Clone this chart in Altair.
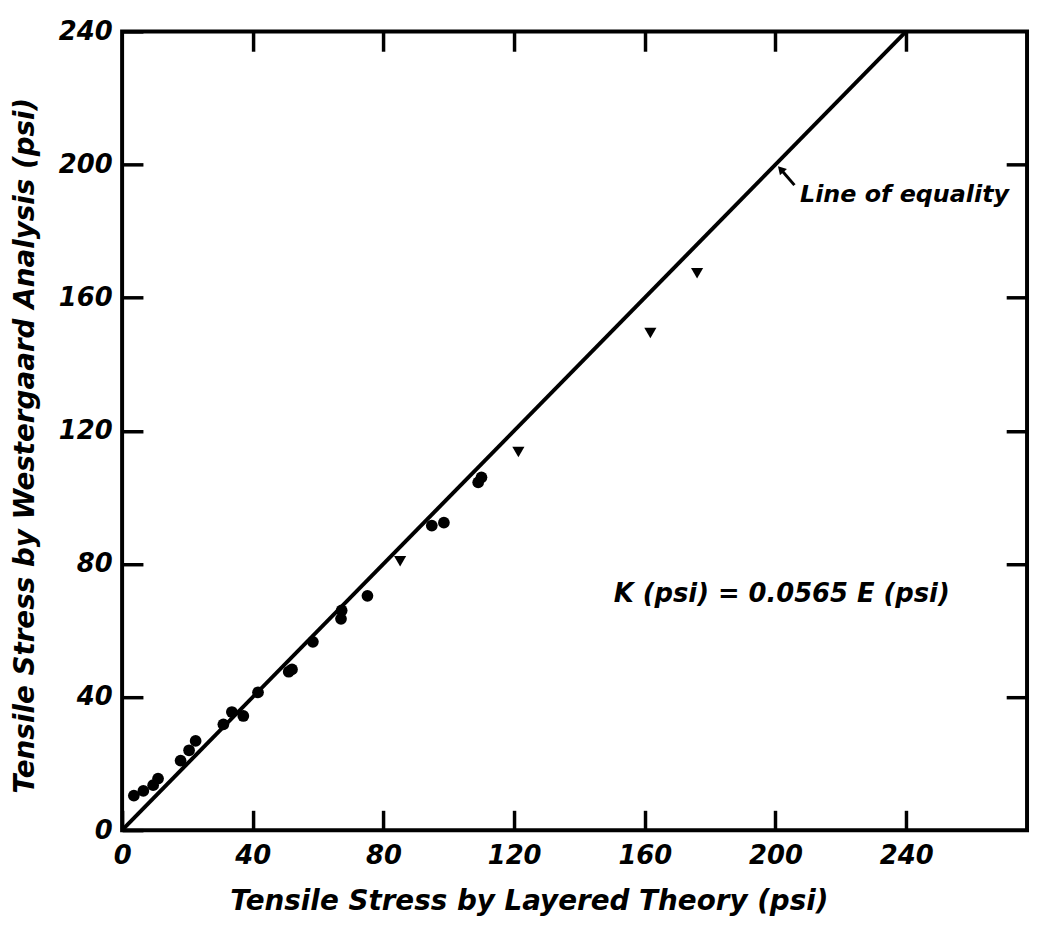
import altair as alt
import pandas as pd

# ---- data ----
circ_x = [3.6, 6.5, 9.5, 11.0, 17.9, 20.5, 22.5, 31.0, 33.6, 37.1, 41.6, 51.0, 52.0,
          58.4, 67.0, 67.2, 75.1, 94.8, 98.5, 109.0, 110.0]
circ_y = [10.4, 11.8, 13.5, 15.5, 20.9, 24.0, 26.8, 31.8, 35.5, 34.3, 41.4, 47.6, 48.3,
          56.6, 63.5, 66.0, 70.4, 91.5, 92.4, 104.5, 106.0]
tri_x = [85.1, 121.3, 161.7, 176.0]
tri_y = [80.8, 113.6, 149.4, 167.3]

eq_x = [0, 240]
eq_y = [0, 240]

x_ticks = [0, 40, 80, 120, 160, 200, 240]
y_ticks = [0, 40, 80, 120, 160, 200, 240]
top_ticks = [40, 80, 120, 160, 200, 240]
right_ticks = [40, 80, 120, 160, 200]

x_title = "Tensile Stress by Layered Theory (psi)"
y_title = "Tensile Stress by Westergaard Analysis (psi)"

note_k = ["K (psi) = 0.0565 E (psi)"]
note_k_x = [150.5]
note_k_y = [71.0]

note_eq = ["Line of equality"]
note_eq_x = [207.5]
note_eq_y = [190.8]

arrow_tail_x = [205.8]
arrow_tail_y = [193.8]
arrow_tip_x = [201.6]
arrow_tip_y = [198.6]

FONT = "DejaVu Sans"

circ_df = pd.DataFrame({"x": circ_x, "y": circ_y})
tri_df = pd.DataFrame({"x": tri_x, "y": tri_y})
eq_df = pd.DataFrame({"x": eq_x, "y": eq_y})
k_df = pd.DataFrame({"x": note_k_x, "y": note_k_y, "t": note_k})
e_df = pd.DataFrame({"x": note_eq_x, "y": note_eq_y, "t": note_eq})
arr_df = pd.DataFrame({"x": arrow_tail_x, "y": arrow_tail_y, "x2": arrow_tip_x, "y2": arrow_tip_y})
tip_df = pd.DataFrame({"x": arrow_tip_x, "y": arrow_tip_y})

xscale = alt.Scale(domain=[0, 277], nice=False, zero=False)
yscale = alt.Scale(domain=[0, 240], nice=False, zero=False)

lab = dict(labelFont=FONT, labelFontSize=26, labelFontWeight="bold",
           labelFontStyle="italic", labelColor="black",
           labelFlush=False, labelOverlap=False)
ttl = dict(titleFont=FONT, titleFontSize=28, titleFontWeight="bold",
           titleFontStyle="italic", titleColor="black")

bottom_axis = alt.Axis(orient="bottom", values=x_ticks, offset=-20, tickSize=20,
                       tickWidth=3.5, tickColor="black", domain=False, grid=False,
                       labelPadding=13, title=x_title, titleX=410, titleY=92,
                       titleAlign="center", titleBaseline="middle", **lab, **ttl)
left_axis = alt.Axis(orient="left", values=y_ticks, offset=-21, tickSize=21,
                     tickWidth=3.5, tickColor="black", domain=False, grid=False,
                     labelPadding=10, title=y_title, titleAngle=270,
                     titleX=-118, titleY=417, titleAlign="center",
                     titleBaseline="middle", **lab, **ttl)
top_axis = alt.Axis(orient="top", values=top_ticks, offset=-20, tickSize=20,
                    tickWidth=3.5, tickColor="black", domain=False, grid=False,
                    labels=False, title=None)
right_axis = alt.Axis(orient="right", values=right_ticks, offset=-21, tickSize=21,
                      tickWidth=3.5, tickColor="black", domain=False, grid=False,
                      labels=False, title=None)

eq_line = alt.Chart(eq_df).mark_line(color="black", strokeWidth=4).encode(
    x=alt.X("x:Q", scale=xscale, axis=bottom_axis),
    y=alt.Y("y:Q", scale=yscale, axis=left_axis),
)

circles = alt.Chart(circ_df).mark_point(shape="circle", filled=True, size=140,
                                        color="black", opacity=1).encode(
    x=alt.X("x:Q", scale=xscale, axis=top_axis),
    y=alt.Y("y:Q", scale=yscale, axis=right_axis),
)

tris = alt.Chart(tri_df).mark_point(shape="triangle-down", filled=True, size=150,
                                    color="black", opacity=1).encode(
    x=alt.X("x:Q", scale=xscale, axis=None),
    y=alt.Y("y:Q", scale=yscale, axis=None),
)

arrow = alt.Chart(arr_df).mark_rule(color="black", strokeWidth=3).encode(
    x=alt.X("x:Q", scale=xscale, axis=None),
    y=alt.Y("y:Q", scale=yscale, axis=None),
    x2="x2:Q", y2="y2:Q",
)
arrow_head = alt.Chart(tip_df).mark_point(shape="triangle-up", filled=True, size=90,
                                          angle=318, color="black", opacity=1).encode(
    x=alt.X("x:Q", scale=xscale, axis=None),
    y=alt.Y("y:Q", scale=yscale, axis=None),
)

k_text = alt.Chart(k_df).mark_text(font=FONT, fontSize=26, fontWeight="bold",
                                   fontStyle="italic", align="left",
                                   baseline="middle", color="black").encode(
    x=alt.X("x:Q", scale=xscale, axis=None),
    y=alt.Y("y:Q", scale=yscale, axis=None),
    text="t:N",
)
e_text = alt.Chart(e_df).mark_text(font=FONT, fontSize=24, fontWeight="bold",
                                   fontStyle="italic", align="left",
                                   baseline="middle", color="black").encode(
    x=alt.X("x:Q", scale=xscale, axis=None),
    y=alt.Y("y:Q", scale=yscale, axis=None),
    text="t:N",
)

chart = alt.layer(eq_line, circles, tris, arrow, arrow_head, k_text, e_text).resolve_axis(
    x="independent", y="independent"
).properties(
    width=912, height=805,
    autosize=alt.AutoSizeParams(type="none"),
    padding={"left": 115, "top": 20, "right": 5, "bottom": 90},
    background="white",
).configure_view(stroke="black", strokeWidth=4)

chart.save("out.html", embed_options={"renderer": "svg", "actions": False})
